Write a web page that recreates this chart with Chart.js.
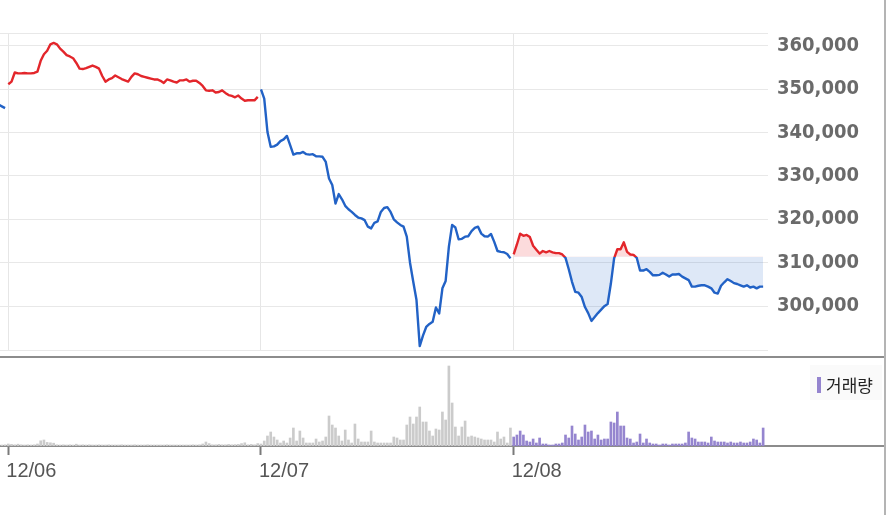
<!DOCTYPE html>
<html>
<head>
<meta charset="utf-8">
<script src="https://cdn.jsdelivr.net/npm/chart.js@4"></script>
<style>
  html, body { margin: 0; padding: 0; background: #fff; }
  #wrap { position: relative; width: 889px; height: 515px; overflow: hidden; background: #fff; }
  #priceBox { position: absolute; left: 0; top: 0; width: 889px; height: 372px; z-index: 3; }
  #volBox { position: absolute; left: 0; top: 357px; width: 889px; height: 158px; z-index: 2; }
  .rule { position: absolute; background: #8c8c8c; z-index: 1; }
  #sep { left: 0; top: 356px; width: 885px; height: 2px; }
  #base { left: 0; top: 445px; width: 885px; height: 2px; }
  #rightBorder { left: 884px; top: 0; width: 2px; height: 515px; background: #b4b4b4; }
  #legend { position: absolute; left: 810px; top: 365px; width: 72px; height: 35px; background: rgba(245,245,245,0.45); z-index: 4;
            font-family: 'Noto Sans CJK KR', sans-serif; font-size: 17px; color: #222; }
  #legend .item { position: absolute; left: 7px; top: 7px; display: flex; align-items: center; white-space: nowrap; }
  #legend .mark { display: inline-block; width: 4px; height: 16px; margin-right: 5px; }
</style>
</head>
<body>
<div id="wrap">
  <div class="rule" id="sep"></div>
  <div class="rule" id="base"></div>
  <div class="rule" id="rightBorder"></div>
  <div id="priceBox"><canvas id="priceChart"></canvas></div>
  <div id="volBox"><canvas id="volChart"></canvas></div>
  <div id="legend"></div>
</div>
<script>
// ---------------- data ----------------
const dayLabels = ['12/06', '12/07', '12/08'];
const pointsPerDay = 78;           // 5-minute points per session
const priceTicks = [300000, 310000, 320000, 330000, 340000, 350000, 360000];
const priceMin = 289900;
const priceMax = 362900;
const prevClose = 311400;          // 12/07 close, baseline of 12/08

const price1205Tail = [346400, 346000, 345600];
const price1206 = [351100,351700,353800,353600,353600,353700,353600,353600,353700,354000,
  356500,358000,358800,360300,360600,360300,359300,358600,357800,357500,
  357100,356000,354700,354600,354800,355100,355400,355100,354700,353000,
  351700,352200,352500,353100,352700,352300,352000,351700,352800,353600,
  353400,353000,352800,352600,352400,352200,352200,351900,351400,352200,
  352000,351700,351500,352000,352000,352200,351700,351900,351900,351400,
  350700,349700,349600,349700,349200,349300,349700,349100,348600,348400,
  348100,348500,347800,347300,347400,347400,347400,348200];
const price1207 = [349900,347800,340100,336700,336800,337200,338000,338400,339200,337100,
  334900,335200,335200,335500,335000,334900,335000,334500,334500,334400,
  333200,329400,327900,323600,325800,324600,323100,322300,321700,321000,
  320400,320200,319800,318300,317900,319200,319500,321700,322600,322800,
  321700,320000,319300,318700,318300,316000,310000,305600,301400,290800,
  293200,295200,295900,296400,299700,298300,304100,305800,313700,318700,
  318100,315400,315500,316000,316100,317300,318000,318300,316700,316100,
  316000,316600,314800,312700,312500,312400,312000,311000];
const price1208 = [311900,314200,316700,316200,316400,315900,313900,313000,312100,312700,
  312400,312700,312400,312200,312200,311900,311100,308500,305600,303300,
  303100,302100,299800,298400,296600,297500,298400,299200,300000,300500,
  305200,311000,313100,313100,314700,312500,311900,311800,311100,308200,
  308200,308500,307900,307100,307100,307200,307700,307300,306800,307300,
  307300,307400,306800,306400,306000,304500,304500,304700,304800,304800,
  304500,304100,303100,302900,304700,305500,306200,305800,305300,305100,
  304800,304500,304800,304300,304500,304100,304500,304500];

const volume1205Tail = [300, 250, 300];
const volume1206 = [500,400,300,450,300,250,300,250,300,500,
  1300,1500,900,800,700,300,250,300,250,300,
  250,450,250,300,250,300,250,250,300,250,
  250,300,250,250,250,300,250,250,250,300,
  250,250,250,300,250,250,250,250,250,300,
  250,250,250,250,250,250,250,300,250,300,
  500,1000,600,300,300,400,300,300,400,300,
  350,400,600,800,300,400,300,600];
const volume1207 = [500,1250,2500,3500,2250,1500,750,1250,750,2000,
  4500,1250,3750,2000,750,750,750,1750,1000,1250,
  2250,7500,5250,4500,2500,1250,4000,1500,750,5500,
  1750,1000,1000,1000,3750,1000,750,750,750,750,
  750,2250,2000,1500,1500,5250,7250,5500,7250,9750,
  6000,6000,3750,2500,4250,4000,8500,6500,20000,10750,
  4750,2500,4750,6250,2250,2500,2250,2000,1750,1500,
  1500,1500,1000,3500,1750,2250,750,4500];
const volume1208 = [2250,2750,3750,2750,1250,1000,1750,750,2000,500,
  500,250,250,500,500,750,2750,2000,5000,3000,
  1500,2250,5250,3500,3750,1750,2750,1500,1750,1750,
  6000,5750,8500,5000,5000,2000,1750,750,1000,3000,
  750,1750,750,500,500,250,500,500,250,500,
  500,500,500,750,3500,2000,1750,1000,1000,1000,
  750,2250,1250,1000,1000,1000,750,1000,750,750,
  1000,750,750,1000,1750,1500,750,4500];
const volumeMax = 22000;

// ---------------- helpers ----------------
const RED = '#e3262b';
const BLUE = '#2262c6';
const PURPLE = '#9585cf';
const GREY = '#cbcbcb';
const xMin = -2.56;
const xMax = 234.5;
const dayStarts = dayLabels.map((_, d) => d * pointsPerDay);

function dayXY(values, dayIndex) {
  return values.map((v, i) => ({ x: dayIndex * pointsPerDay + i, y: v }));
}
function tailXY(values) {
  return values.map((v, i) => ({ x: i - values.length, y: v }));
}
function splitColor(context) {
  const chart = context.chart;
  const area = chart.chartArea;
  if (!area) return BLUE;
  const yBase = chart.scales.y.getPixelForValue(prevClose);
  let r = (yBase - area.top) / (area.bottom - area.top);
  r = Math.min(Math.max(r, 0), 1);
  const g = chart.ctx.createLinearGradient(0, area.top, 0, area.bottom);
  g.addColorStop(0, RED); g.addColorStop(r, RED);
  g.addColorStop(r, BLUE); g.addColorStop(1, BLUE);
  return g;
}
const dayTickBuilder = s => { s.ticks = dayStarts.map(v => ({ value: v })); };

// ---------------- price chart ----------------
const lineBase = { pointRadius: 0, borderWidth: 2.4, tension: 0, borderJoinStyle: 'round', fill: false };
new Chart(document.getElementById('priceChart'), {
  type: 'line',
  data: {
    datasets: [
      Object.assign({ label: '12/05', data: tailXY(price1205Tail), borderColor: BLUE }, lineBase),
      Object.assign({ label: dayLabels[0], data: dayXY(price1206, 0), borderColor: RED }, lineBase),
      Object.assign({ label: dayLabels[1], data: dayXY(price1207, 1), borderColor: BLUE }, lineBase),
      Object.assign({}, lineBase, { label: dayLabels[2], data: dayXY(price1208, 2), borderColor: splitColor,
        fill: { value: prevClose, above: 'rgba(235,40,45,0.17)', below: 'rgba(35,98,198,0.15)' } })
    ]
  },
  options: {
    responsive: true, maintainAspectRatio: false, animation: false,
    layout: { padding: { top: 33, bottom: 22, left: 0, right: 0 } },
    plugins: { legend: { display: false }, tooltip: { enabled: false } },
    scales: {
      x: {
        type: 'linear', min: xMin, max: xMax, offset: false,
        afterBuildTicks: dayTickBuilder,
        ticks: { display: false },
        grid: { color: '#e6e6e6', lineWidth: 1, drawTicks: false, offset: false },
        border: { display: false }
      },
      y: {
        position: 'right', min: priceMin, max: priceMax,
        afterBuildTicks: s => { s.ticks = [priceMin, ...priceTicks, priceMax].map(v => ({ value: v })); },
        afterFit: s => { s.width = 121; },
        ticks: {
          padding: 9, color: '#6a6a6a',
          font: { family: "'DejaVu Sans Condensed', 'DejaVu Sans', sans-serif", size: 20, weight: 'bold' },
          callback: v => priceTicks.includes(v) ? v.toLocaleString('en-US') : ''
        },
        grid: { color: '#e8e8e8', lineWidth: 1, drawTicks: false },
        border: { display: false }
      }
    }
  }
});

// ---------------- volume chart ----------------
const htmlLegend = {
  id: 'htmlLegend',
  afterUpdate(chart) {
    const box = document.getElementById('legend');
    box.innerHTML = '';
    const items = chart.options.plugins.legend.labels.generateLabels(chart)
      .filter(it => it.datasetIndex === 1);
    items.forEach(it => {
      const row = document.createElement('div'); row.className = 'item';
      const mark = document.createElement('span'); mark.className = 'mark';
      mark.style.background = it.fillStyle;
      const txt = document.createElement('span'); txt.textContent = it.text;
      row.appendChild(mark); row.appendChild(txt); box.appendChild(row);
    });
  }
};
new Chart(document.getElementById('volChart'), {
  type: 'bar',
  data: {
    datasets: [
      { label: '거래량', data: tailXY(volume1205Tail).concat(dayXY(volume1206, 0), dayXY(volume1207, 1)),
        backgroundColor: GREY, barThickness: 2, grouped: false },
      { label: '거래량', data: dayXY(volume1208, 2),
        backgroundColor: PURPLE, barThickness: 2, grouped: false }
    ]
  },
  options: {
    responsive: true, maintainAspectRatio: false, animation: false,
    layout: { padding: { top: 1, bottom: 0, left: 0, right: 121 } },
    plugins: { legend: { display: false }, tooltip: { enabled: false } },
    scales: {
      x: {
        type: 'linear', min: xMin, max: xMax, offset: false,
        afterBuildTicks: dayTickBuilder,
        afterFit: s => { s.height = 69; },
        ticks: {
          align: 'start', padding: 4, labelOffset: -2, maxRotation: 0, autoSkip: false,
          color: '#555', font: { family: "'Liberation Sans', Arial, sans-serif", size: 20 },
          callback: (v, i) => dayLabels[i]
        },
        grid: { offset: false, drawOnChartArea: false, drawTicks: true, tickLength: 9, tickColor: '#7a7a7a', tickWidth: 2 },
        border: { color: '#8c8c8c', width: 2 }
      },
      y: { display: false, min: 0, max: volumeMax }
    }
  },
  plugins: [htmlLegend]
});
</script>
</body>
</html>
